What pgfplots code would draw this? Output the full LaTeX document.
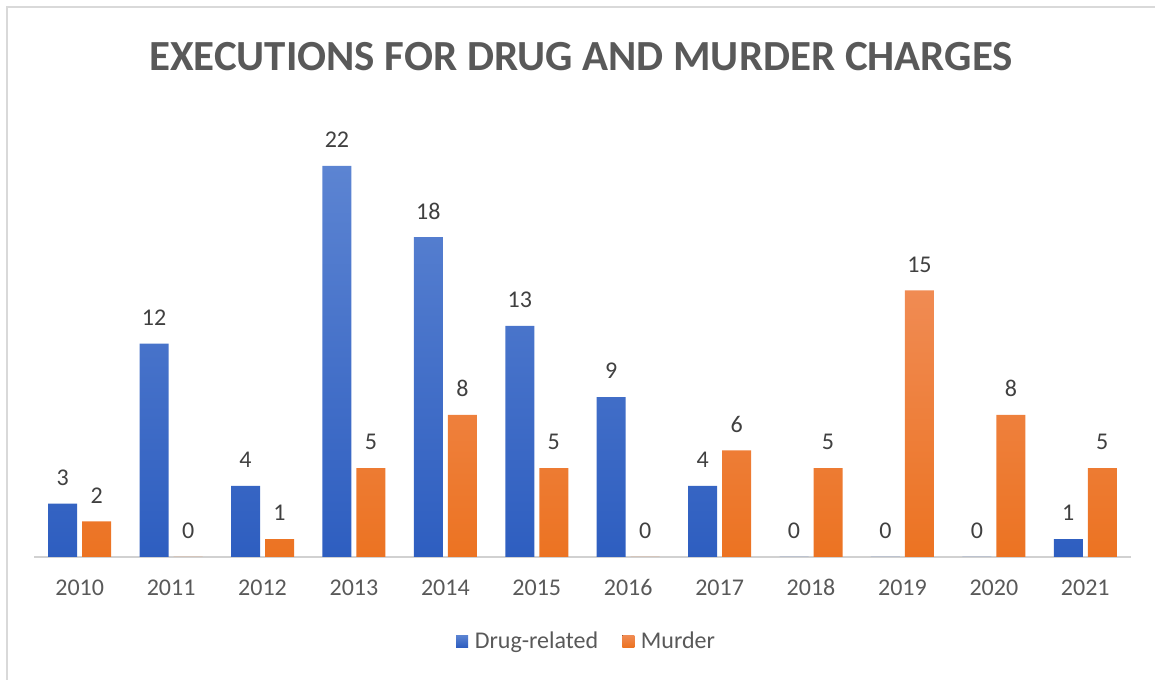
\documentclass[border=0pt]{standalone}
\usepackage{pgfplots}
\pgfplotsset{compat=1.18}
\usepackage{fontspec}
\setmainfont{Carlito}
\definecolor{titlegray}{HTML}{595959}
\definecolor{labgray}{HTML}{404040}
\definecolor{bluetop}{HTML}{5C84D2}
\definecolor{bluebot}{HTML}{2E5EC0}
\definecolor{orgtop}{HTML}{F08B53}
\definecolor{orgbot}{HTML}{EC7322}
\begin{document}
\begin{tikzpicture}
\path[use as bounding box] (0,0) rectangle (866.25pt,510pt);
\draw[black!15, line width=1.5pt] (5.25pt,0) -- (5.25pt,505pt) -- (866.25pt,505pt);
\node[font=\fontsize{32.2}{38}\selectfont\bfseries, text=titlegray] at (435.75pt,467.25pt) {EXECUTIONS FOR DRUG AND MURDER CHARGES};
\begin{axis}[
  at={(25.5pt,92.25pt)}, anchor=south west,
  scale only axis, width=822.75pt, height=319.9pt,
  ybar, bar width=21.75pt, bar shift auto,
  ymin=0, ymax=24, xmin=-0.5, xmax=11.5,
  axis y line=none, axis x line*=bottom,
  axis line style={draw=black!18, line width=1pt, -},
  xtick=data, xticklabels={2010,2011,2012,2013,2014,2015,2016,2017,2018,2019,2020,2021},
  major tick length=0pt,
  /pgf/number format/assume math mode=true,
  xticklabel style={font=\fontsize{18}{21}\selectfont, text=titlegray, anchor=center, yshift=-23pt},
  nodes near coords,
  every node near coord/.append style={font=\fontsize{18}{21}\selectfont, text=labgray, anchor=center, yshift=19.5pt},
  legend style={at={(0.504,-0.197)}, anchor=center, draw=none, legend columns=-1,
    font=\fontsize{18}{21}\selectfont, text=titlegray,
    /tikz/every even column/.append style={column sep=16pt},
    /tikz/every odd column/.append style={column sep=3pt}},
  legend image code/.code={\fill[#1] (0pt,-4.5pt) rectangle (9pt,4.5pt);},
]
\addplot[draw=none, top color=bluetop, bottom color=bluebot, bar shift=-12.75pt] coordinates {
(0,3) (1,12) (2,4) (3,22) (4,18) (5,13) (6,9) (7,4) (8,0) (9,0) (10,0) (11,1)};
\addplot[draw=none, top color=orgtop, bottom color=orgbot, bar shift=12.75pt] coordinates {
(0,2) (1,0) (2,1) (3,5) (4,8) (5,5) (6,0) (7,6) (8,5) (9,15) (10,8) (11,5)};
\legend{Drug-related, Murder}
\end{axis}
\end{tikzpicture}
\end{document}
